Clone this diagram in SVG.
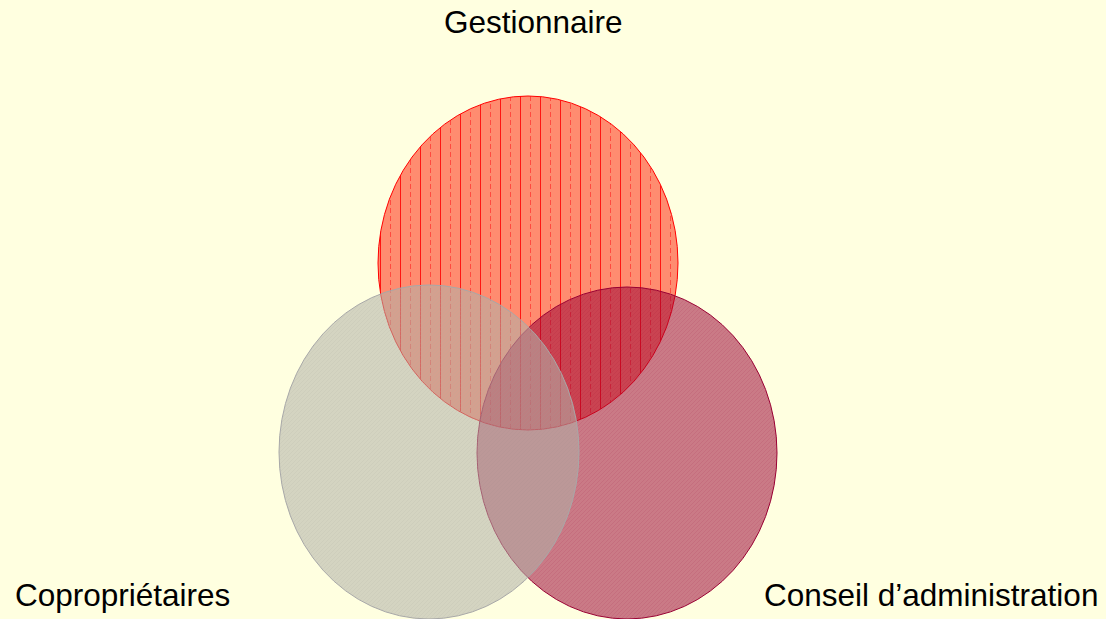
<svg xmlns="http://www.w3.org/2000/svg" width="1106" height="619" viewBox="0 0 1106 619">
  <defs>
    <pattern id="vstripes" width="20" height="8" patternUnits="userSpaceOnUse">
      <rect width="20" height="8" fill="#FF1A00" fill-opacity="0.5"/>
      <line x1="0.5" y1="0" x2="0.5" y2="8" stroke="#FF0000" stroke-width="1" stroke-opacity="0.85"/>
      <line x1="10.5" y1="0" x2="10.5" y2="5" stroke="#FF2020" stroke-width="1" stroke-opacity="0.6"/>
    </pattern>
    <pattern id="hatchGray" width="4" height="4" patternUnits="userSpaceOnUse">
      <rect width="4" height="4" fill="#B0B0A8" fill-opacity="0.55"/>
      <path d="M0,4 L4,0" stroke="#A8A8A0" stroke-width="0.5" stroke-opacity="0.3"/>
    </pattern>
    <pattern id="hatchRed" width="4" height="4" patternUnits="userSpaceOnUse">
      <rect width="4" height="4" fill="#990033" fill-opacity="0.52"/>
      <path d="M0,4 L4,0" stroke="#990033" stroke-width="0.5" stroke-opacity="0.2"/>
    </pattern>
  </defs>
  <style>
    .label { font-family: "Liberation Sans", Arial, sans-serif; font-size: 31.5px; fill: #000000; }
  </style>
  <rect width="1106" height="619" fill="#FFFFE0"/>
  <g id="gestionnaire">
    <ellipse cx="528" cy="263" rx="150" ry="167" fill="url(#vstripes)" stroke="#FF0000" stroke-width="1"/>
  </g>
  <g id="conseil">
    <ellipse cx="627" cy="453" rx="150" ry="166" fill="url(#hatchRed)" stroke="#990033" stroke-width="1"/>
  </g>
  <g id="coproprietaires">
    <ellipse cx="429" cy="452" rx="150" ry="167" fill="url(#hatchGray)" stroke="#A8A8A8" stroke-width="1"/>
  </g>
  <g id="connectors"></g>
  <g id="labels">
    <text class="label" x="444" y="33">Gestionnaire</text>
    <text class="label" x="15" y="606">Copropriétaires</text>
    <text class="label" x="764" y="606">Conseil d’administration</text>
  </g>
</svg>
